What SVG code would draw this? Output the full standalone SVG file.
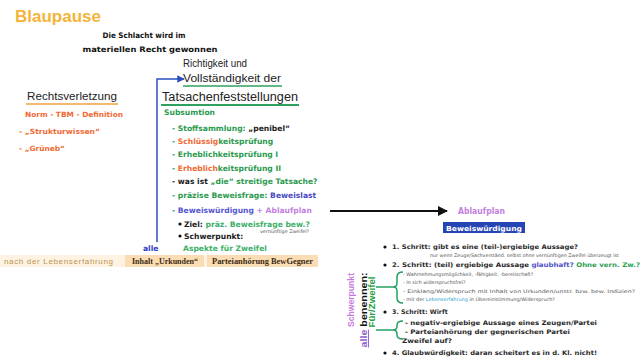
<svg xmlns="http://www.w3.org/2000/svg" width="644" height="361" viewBox="0 0 644 361">
<style>
.b{font-family:"DejaVu Sans",Verdana,sans-serif;font-weight:bold}
.r{font-family:"Liberation Sans",Arial,sans-serif}
.rb{font-family:"Liberation Sans",Arial,sans-serif;font-weight:bold}
.l{font-size:7.6px}
.s{font-size:6.3px;fill:#2a2a2a}
.t{font-family:"DejaVu Sans",Verdana,sans-serif;font-size:4.8px;fill:#555}
.g{fill:#2B9A4E}
.o{fill:#F06A35}
.k{fill:#1a1a1a}
.p{fill:#4A4AC0}
.m{fill:#C47FE0}
.lg{fill:#3DB06A}
</style>
<defs>
<marker id="ab" viewBox="0 0 10 10" refX="9" refY="5" markerWidth="5" markerHeight="5" orient="auto"><path d="M0,0L10,5L0,10z" fill="#2C4FC0"/></marker>
<marker id="ak" viewBox="0 0 10 10" refX="9" refY="5" markerWidth="5" markerHeight="5" orient="auto"><path d="M0,0L10,5L0,10z" fill="#111"/></marker>
</defs>
<rect width="644" height="361" fill="#fff"/>

<g id="title">
<text class="rb" x="15" y="22" font-size="17" fill="#F4B43A">Blaupause</text>
<text class="b" x="144" y="38" font-size="7.6" text-anchor="middle" fill="#111" textLength="83" lengthAdjust="spacingAndGlyphs">Die Schlacht wird im</text>
<text class="b" x="150" y="52" font-size="7.6" text-anchor="middle" fill="#111" textLength="135" lengthAdjust="spacingAndGlyphs">materiellen Recht gewonnen</text>
</g>

<g id="rechtsverletzung">
<text class="r" x="27" y="100" font-size="11.5" fill="#222" textLength="90" lengthAdjust="spacingAndGlyphs">Rechtsverletzung</text>
<line x1="26" y1="104" x2="118" y2="104" stroke="#F0A040" stroke-width="1.5"/>
<text class="b o" x="25" y="117" font-size="7.2" textLength="98" lengthAdjust="spacingAndGlyphs">Norm - TBM - Definition</text>
<text class="b o" x="19" y="134" font-size="7.2" textLength="81" lengthAdjust="spacingAndGlyphs">- „Strukturwissen“</text>
<text class="b o" x="19" y="151" font-size="7.2" textLength="46" lengthAdjust="spacingAndGlyphs">- „Grüneb“</text>
</g>

<g id="tatsachen">
<text class="r" x="183" y="67" font-size="10.5" fill="#222" textLength="64" lengthAdjust="spacingAndGlyphs">Richtigkeit und</text>
<text class="r" x="183" y="82" font-size="10.5" fill="#222" textLength="98" lengthAdjust="spacingAndGlyphs">Vollständigkeit der</text>
<line x1="183" y1="86" x2="282" y2="86" stroke="#2FA060" stroke-width="1.4"/>
<text class="r" x="162" y="101" font-size="12.5" fill="#222" textLength="136" lengthAdjust="spacingAndGlyphs">Tatsachenfeststellungen</text>
<line x1="161" y1="105" x2="299" y2="105" stroke="#2FA060" stroke-width="2"/>
</g>

<g id="subsumtion" class="b l">
<text x="164" y="115" class="g">Subsumtion</text>
<text x="172" y="131" class="g">- Stoffsammlung: <tspan class="k">„penibel“</tspan></text>
<text x="172" y="144" class="g">- <tspan class="o">Schlüssig</tspan>keitsprüfung</text>
<text x="172" y="157" class="g">- Erheblichkeitsprüfung I</text>
<text x="172" y="171" class="g">- <tspan class="o">Erheblich</tspan>keitsprüfung II</text>
<text x="172" y="184" class="k">- was ist <tspan class="g">„die“ streitige Tatsache?</tspan></text>
<text x="172" y="198" class="g">- präzise Beweisfrage: <tspan class="p">Beweislast</tspan></text>
<text x="172" y="213" class="g">- <tspan fill="#5656D0">Beweiswürdigung</tspan> <tspan class="m">+ Ablaufplan</tspan></text>
<circle cx="180" cy="224" r="1.6" fill="#111"/>
<text x="184" y="227" class="k">Ziel: <tspan class="lg">präz. Beweisfrage bew.?</tspan></text>
<text x="260" y="233" class="t" font-weight="normal" font-size="4.5">vernünftige Zweifel?</text>
<circle cx="180" cy="236" r="1.6" fill="#111"/>
<text x="184" y="239" class="k">Schwerpunkt:</text>
<text x="143" y="251" fill="#3040C0">alle</text>
<text x="183" y="251" class="lg">Aspekte für Zweifel</text>
</g>

<g id="leiste">
<rect x="0" y="255" width="318" height="12" fill="#FEF3E2"/>
<rect x="125" y="255" width="79" height="12" fill="#FBDDB5"/>
<rect x="207" y="255" width="111" height="12" fill="#FBDDB5"/>
<text class="r" x="4" y="264" font-size="8" fill="#B89458" textLength="109" lengthAdjust="spacing">nach der Lebenserfahrung</text>
<text x="132" y="264" font-family="Liberation Serif,serif" font-weight="bold" font-size="7.5" fill="#3a2a10" textLength="66" lengthAdjust="spacingAndGlyphs">Inhalt „Urkunden“</text>
<text x="212" y="264" font-family="Liberation Serif,serif" font-weight="bold" font-size="7.5" fill="#3a2a10" textLength="101" lengthAdjust="spacingAndGlyphs">Parteianhörung BewGegner</text>
</g>

<g id="ablaufplan">
<text class="b m" x="458" y="214" font-size="8" textLength="47" lengthAdjust="spacingAndGlyphs">Ablaufplan</text>
<rect x="443" y="222" width="82" height="11" fill="#2645B5"/>
<text class="b" x="484" y="230.5" font-size="7" fill="#fff" text-anchor="middle" textLength="76" lengthAdjust="spacingAndGlyphs">Beweiswürdigung</text>
</g>

<g id="schritte">
<circle cx="385" cy="247" r="1.6" fill="#111"/>
<text class="b s" x="392" y="249.2" textLength="186" lengthAdjust="spacingAndGlyphs">1. Schritt: gibt es eine (teil-)ergiebige Aussage?</text>
<text class="t" x="430" y="257">nur wenn Zeuge/Sachverständ. selbst ohne vernünftigen Zweifel überzeugt ist</text>
<circle cx="385" cy="265" r="1.6" fill="#111"/>
<text class="b s" x="392" y="267.2" textLength="248" lengthAdjust="spacingAndGlyphs">2. Schritt: (teil) ergiebige Aussage <tspan fill="#5050C8">glaubhaft?</tspan> <tspan fill="#2AA050">Ohne vern. Zw.?</tspan></text>
<text class="t" x="403" y="275.5">- Wahrnehmungsmöglichkeit, -fähigkeit, -bereitschaft?</text>
<text class="t" x="403" y="284">- In sich widerspruchsfrei?</text>
<text class="t" x="403" y="292.5" textLength="232" lengthAdjust="spacingAndGlyphs">- Einklang/Widerspruch mit Inhalt von Urkunden/unstr. bzw. bew. Indizien?</text>
<text class="t" x="403" y="300.5" textLength="152" lengthAdjust="spacingAndGlyphs">- mit der <tspan fill="#2AA0D0">Lebenserfahrung</tspan> in Übereinstimmung/Widerspruch?</text>
<circle cx="385" cy="312" r="1.6" fill="#111"/>
<text class="b s" x="392" y="314.2">3. Schritt: Wirft</text>
<text class="b s" x="405" y="324.5" font-size="6.8" textLength="192" lengthAdjust="spacingAndGlyphs">- negativ-ergiebige Aussage eines Zeugen/Partei</text>
<text class="b s" x="405" y="333.5" font-size="6.8" textLength="165" lengthAdjust="spacingAndGlyphs">- Parteianhörung der gegnerischen Partei</text>
<text class="b s" x="402" y="342.5" font-size="6.8" textLength="50" lengthAdjust="spacingAndGlyphs">Zweifel auf?</text>
<circle cx="385" cy="353" r="1.6" fill="#111"/>
<text class="b s" x="392" y="355.2" textLength="205" lengthAdjust="spacingAndGlyphs">4. Glaubwürdigkeit: daran scheitert es in d. Kl. nicht!</text>
</g>

<g id="schwerpunkt">
<text class="rb" transform="translate(354,300) rotate(-90)" text-anchor="middle" font-size="9" fill="#C77DDB" textLength="54" lengthAdjust="spacingAndGlyphs">Schwerpunkt</text>
<text class="rb" transform="translate(367,310) rotate(-90)" text-anchor="middle" font-size="9.5" fill="#111" textLength="75" lengthAdjust="spacingAndGlyphs"><tspan fill="#9060D0" text-decoration="underline">alle</tspan> benennen:</text>
<text class="rb" transform="translate(375,302) rotate(-90)" text-anchor="middle" font-size="9" fill="#1FA040" textLength="51" lengthAdjust="spacingAndGlyphs">Für/Zweifel</text>
</g>

<g id="connectors" fill="none">
<path d="M157,242V79H184" stroke="#2C4FC0" stroke-width="1.5" marker-end="url(#ab)"/>
<line x1="330" y1="211" x2="447" y2="211" stroke="#111" stroke-width="2" marker-end="url(#ak)"/>
<g stroke="#20A060" stroke-width="1.5">
<line x1="376" y1="287" x2="393" y2="287"/>
<path d="M403,272Q397,272 397,277V283Q397,287 393,287Q397,287 397,291V298Q397,303 403,303"/>
<line x1="376" y1="330" x2="393" y2="330"/>
<path d="M403,321Q397,321 397,325V326Q397,330 393,330Q397,330 397,334V335Q397,339 403,339"/>
</g>
</g>
</svg>
